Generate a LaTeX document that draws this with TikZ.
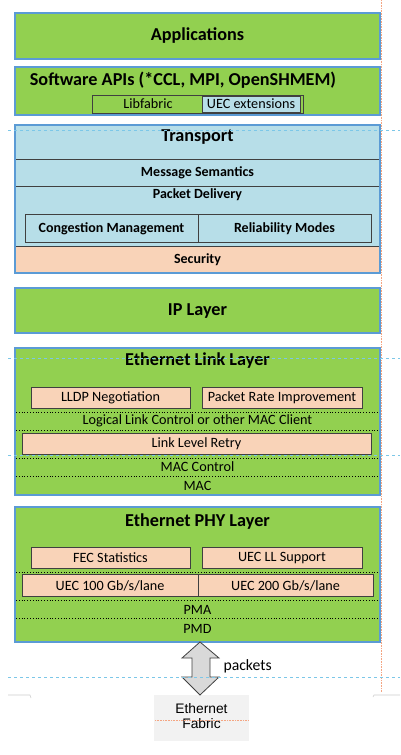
\documentclass[tikz,border=0pt]{standalone}
\usepackage{fontspec}
\usetikzlibrary{calc}
\setmainfont{Carlito}
\newfontfamily\arialf{Liberation Sans}
\definecolor{lgreen}{HTML}{92D050}
\definecolor{bordblue}{HTML}{5B9BD5}
\definecolor{lblue}{HTML}{B7DEE8}
\definecolor{peach}{HTML}{F9D3B8}
\definecolor{dgray}{HTML}{404040}
\definecolor{guide}{HTML}{7CC7E8}
\definecolor{oguide}{HTML}{F4A582}
\definecolor{fabgray}{HTML}{F2F2F2}
\definecolor{arrgray}{HTML}{D9D9D9}
\tikzset{
  base/.style={inner sep=0pt, outer sep=0pt, anchor=north west},
  layer/.style={base, draw=bordblue, line width=1.8pt, fill=lgreen},
  tlayer/.style={base, draw=bordblue, line width=1.8pt, fill=lblue},
  row/.style={base, draw=dgray, line width=0.8pt},
  pbox/.style={base, draw=dgray, line width=0.8pt, fill=peach},
  bbox/.style={base, draw=dgray, line width=0.8pt, fill=lblue},
  ttl/.style={font=\fontsize{18.2}{21}\selectfont\bfseries},
  sub/.style={font=\fontsize{14}{16}\selectfont\bfseries},
  reg/.style={font=\fontsize{14.2}{16}\selectfont},
  sep/.style={black, line width=0.8pt, dotted},
  guideline/.style={guide, line width=0.6pt, dashed},
  oline/.style={oguide, line width=0.6pt, densely dotted},
}
\begin{document}
\begin{tikzpicture}[x=1pt,y=-1pt]
\useasboundingbox (0,0) rectangle (400,755);
% guide artifacts
\draw[oline] (381,0) -- (381,692);
% Applications
\node[layer, minimum width=365pt, minimum height=46pt] (app) at (15,13) {};
\node[ttl] (appt) at (197.5,35.5) {Applications};
% Software APIs
\node[layer, minimum width=365pt, minimum height=48pt] (api) at (15,67) {};
\node[ttl] (apit) at (183,80.5) {Software APIs (*CCL, MPI, OpenSHMEM)};
\node[row, minimum width=211pt, minimum height=18pt] (lib) at (92,95) {};
\node[reg] (libt) at (148,104) {Libfabric};
\node[bbox, minimum width=98pt, minimum height=16pt] (uecx) at (202,96) {};
\node[reg] (uecxt) at (251,104) {UEC extensions};
% Transport
\node[tlayer, minimum width=365pt, minimum height=148pt] (tr) at (15,125) {};
\node[ttl] (trt) at (197.5,137.5) {Transport};
\node[row, minimum width=365pt, minimum height=27pt] (msg) at (15,159) {};
\node[sub] (msgt) at (197.5,172.5) {Message Semantics};
\node[row, minimum width=365pt, minimum height=60pt] (pd) at (15,186) {};
\node[sub] (pdt) at (197.5,194.5) {Packet Delivery};
\node[row, minimum width=173pt, minimum height=28pt] (cong) at (25,214) {};
\node[sub] (congt) at (111.5,228.5) {Congestion Management};
\node[row, minimum width=173pt, minimum height=28pt] (rel) at (198,214) {};
\node[sub] (relt) at (284.5,228.5) {Reliability Modes};
\node[pbox, minimum width=365pt, minimum height=27pt] (sec) at (15,246) {};
\node[sub] (sect) at (197.5,259.5) {Security};
\draw[bordblue, line width=1.8pt] (tr.north west) rectangle (tr.south east);
% IP Layer
\node[layer, minimum width=365pt, minimum height=45pt] (ip) at (15,288) {};
\node[ttl] (ipt) at (197.5,311.5) {IP Layer};
% Ethernet Link Layer
\node[layer, minimum width=365pt, minimum height=147pt] (eth) at (15,348) {};
\node[ttl] (etht) at (197.5,360.5) {Ethernet Link Layer};
\node[pbox, minimum width=159pt, minimum height=21pt] (lldp) at (31,387) {};
\node[reg] (lldpt) at (110.5,398) {LLDP Negotiation};
\node[pbox, minimum width=160pt, minimum height=21pt] (prate) at (202,387) {};
\node[reg] (pratet) at (282,398) {Packet Rate Improvement};
\draw[sep] (16,412) -- (379,412);
\node[reg] (llc) at (197.5,421) {Logical Link Control or other MAC Client};
\draw[sep] (16,430) -- (379,430);
\node[pbox, minimum width=349pt, minimum height=21pt] (llr) at (22,433) {};
\node[reg] (llrt) at (196.5,444) {Link Level Retry};
\draw[sep] (16,458) -- (379,458);
\node[reg] (macc) at (197.5,467) {MAC Control};
\draw[sep] (16,476) -- (379,476);
\node[reg] (mac) at (197.5,486) {MAC};
% Ethernet PHY Layer
\node[layer, minimum width=365pt, minimum height=135pt] (phy) at (15,507) {};
\node[ttl] (phyt) at (197.5,521.5) {Ethernet PHY Layer};
\node[pbox, minimum width=159pt, minimum height=21pt] (fec) at (31,547) {};
\node[reg] (fect) at (110.5,558) {FEC Statistics};
\node[pbox, minimum width=160pt, minimum height=21pt] (ll) at (202,547) {};
\node[reg] (llt) at (282,558) {UEC LL Support};
\draw[sep] (16,572) -- (379,572);
\node[pbox, minimum width=176pt, minimum height=22pt] (u100) at (22,574) {};
\node[reg] (u100t) at (110,585.5) {UEC 100 Gb/s/lane};
\node[pbox, minimum width=175pt, minimum height=22pt] (u200) at (198,574) {};
\node[reg] (u200t) at (285.5,585.5) {UEC 200 Gb/s/lane};
\draw[sep] (16,600) -- (379,600);
\node[reg] (pma) at (197.5,609.5) {PMA};
\draw[sep] (16,618) -- (379,618);
\node[reg] (pmd) at (197.5,628.5) {PMD};
% Ethernet fabric
\node[base, fill=fabgray, minimum width=95pt, minimum height=46pt] (fab) at (154,695) {};
\node[font=\arialf\fontsize{13.8}{15}\selectfont, align=center] (fabt) at (201.5,716) {Ethernet\\Fabric};
\draw[oline] (155,720) -- (249,720);
% double arrow (packets)
\coordinate (ta) at (200,642);
\coordinate (tb) at (200,695);
\draw[dgray, fill=arrgray, line width=0.8pt, line join=miter]
  (ta) -- ($(ta)+(19,16)$) -- ($(ta)+(10,16)$) -- ($(tb)+(10,-18)$) -- ($(tb)+(19,-18)$)
  -- (tb) -- ($(tb)+(-18,-18)$) -- ($(tb)+(-8,-18)$) -- ($(ta)+(-8,16)$) -- ($(ta)+(-18,16)$) -- cycle;
\node[font=\fontsize{15.7}{18}\selectfont, anchor=west] (pk) at (220,666.5) {packets};
% cyan guide artifacts
\draw[guideline] (8,130) -- (400,130);
\draw[guideline] (8,358) -- (400,358);
\draw[guideline] (8,455) -- (400,455);
\draw[guideline] (8,677) -- (400,677);
\draw[gray!40, line width=0.6pt] (8,695) -- (30,695) -- (31,698);
\draw[gray!40, line width=0.6pt] (373,697) -- (374,695) -- (400,695);
\end{tikzpicture}
\end{document}
